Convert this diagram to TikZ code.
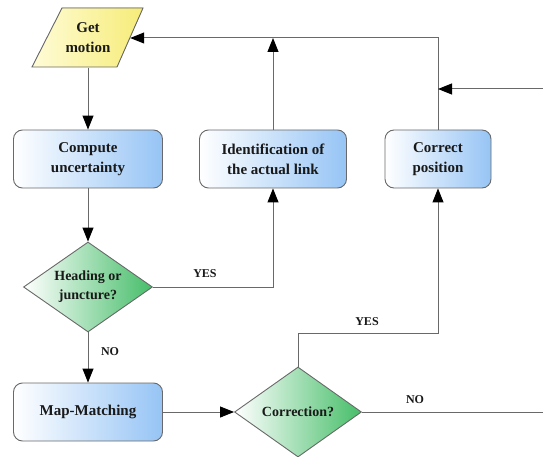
\documentclass[tikz,border=0pt]{standalone}
\usepackage{fontspec}
\setmainfont{Liberation Serif}
\usetikzlibrary{shapes.geometric,arrows.meta,calc}
\definecolor{boxblue}{RGB}{150,196,245}
\definecolor{dgreen}{RGB}{70,190,105}
\definecolor{ylight}{RGB}{255,252,215}
\definecolor{ydark}{RGB}{246,236,120}
\definecolor{edge}{RGB}{105,105,105}
\definecolor{txt}{RGB}{25,25,25}
\begin{document}
\begin{tikzpicture}[x=1pt,y=-1pt,
  every node/.style={text=txt},
  procbox/.style={draw=edge,line width=0.9pt,rounded corners=9pt,left color=white,right color=boxblue,
    minimum height=58pt,inner sep=2pt,align=center,font=\fontsize{15}{20}\selectfont\bfseries},
  decide/.style={draw=edge,line width=0.9pt,diamond,aspect=1.43,left color=white,right color=dgreen,
    inner sep=0pt,minimum width=129pt,minimum height=90pt,align=center,font=\fontsize{14}{19}\selectfont\bfseries},
  lbl/.style={font=\fontsize{12}{14}\selectfont\bfseries},
  flow/.style={draw=edge,line width=1pt,-{Triangle[length=14pt,width=11pt,color=black]}},
  plain/.style={draw=edge,line width=1pt}]
\useasboundingbox (0,0) rectangle (543,457);
% Get motion parallelogram
\fill[left color=ylight,right color=ydark] (62,8) -- (143,8) -- (117,67) -- (32,67) -- cycle;
\draw[edge,line width=0.9pt] (62,8) -- (143,8) -- (117,67) -- (32,67) -- cycle;
\node[minimum width=84pt,minimum height=59pt,inner sep=0pt,align=center,font=\fontsize{15}{20}\selectfont\bfseries] (gm) at (88,38) {Get\\motion};
% boxes
\node[procbox,minimum width=149pt] (cu) at (88,159) {Compute\\uncertainty};
\node[procbox,minimum width=147pt] (id) at (273,159) {Identification of\\the actual link};
\node[procbox,minimum width=106pt] (cp) at (438,159) {Correct\\position};
\node[procbox,minimum width=149pt] (mm) at (88,412) {Map-Matching};
% diamonds
\node[decide] (hd) at (88,287) {Heading or\\juncture?};
\node[decide,minimum width=127pt] (cr) at (298,412) {Correction?};
% coordinates
\coordinate (yc) at (438,333);
\coordinate (noend) at (543,412);
\coordinate (inr) at (543,89);
\coordinate (inl) at (438,89);
% connectors
\draw[flow] (gm.south) -- (cu.north);
\draw[flow] (cu.south) -- (hd.north);
\draw[flow] (hd.east) -| (id.south);
\draw[flow] (hd.south) -- (mm.north);
\draw[flow] (mm.east) -- (cr.west);
\draw[flow] (cr.north) |- (yc) -- (cp.south);
\draw[plain] (cr.east) -- (noend);
\draw[flow] (cp.north) |- (gm.east);
\draw[flow] (id.north) -- (id.north |- gm.east);
\draw[flow] (inr) -- (inl);
% labels
\node[lbl] (l1) at (205,274) {YES};
\node[lbl] (l2) at (367,322) {YES};
\node[lbl] (l3) at (110,352) {NO};
\node[lbl] (l4) at (415,400) {NO};
\end{tikzpicture}
\end{document}
